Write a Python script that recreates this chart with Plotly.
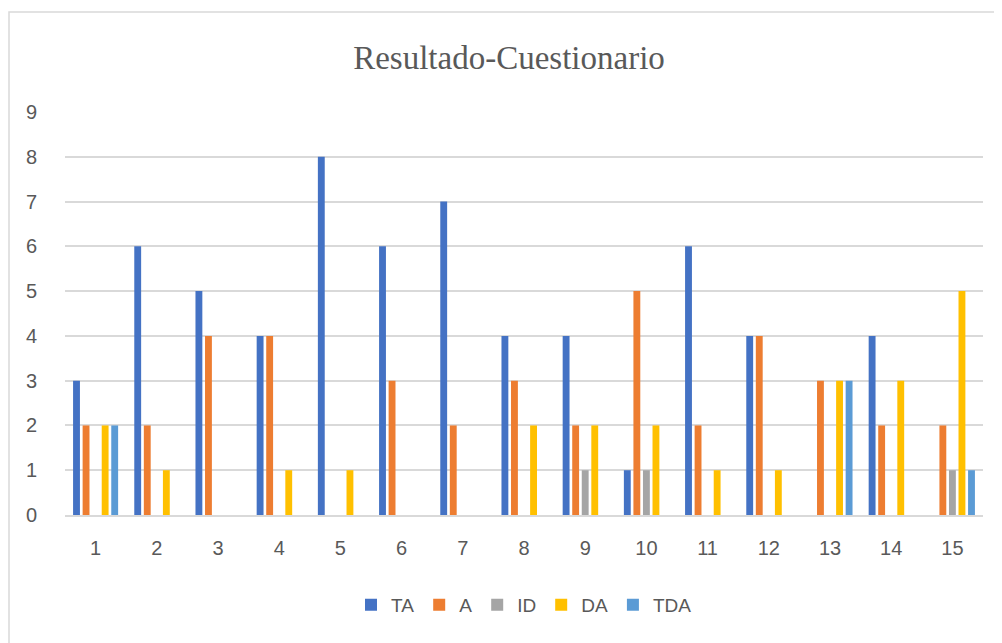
import plotly.graph_objects as go

categories = [str(i) for i in range(1, 16)]
series_names = ["TA", "A", "ID", "DA", "TDA"]
TA  = [3, 6, 5, 4, 8, 6, 7, 4, 4, 1, 6, 4, 0, 4, 0]
A   = [2, 2, 4, 4, 0, 3, 2, 3, 2, 5, 2, 4, 3, 2, 2]
ID  = [0, 0, 0, 0, 0, 0, 0, 0, 1, 1, 0, 0, 0, 0, 1]
DA  = [2, 1, 0, 1, 1, 0, 0, 2, 2, 2, 1, 1, 3, 3, 5]
TDA = [2, 0, 0, 0, 0, 0, 0, 0, 0, 0, 0, 0, 3, 0, 1]
colors = ["#4472C4", "#ED7D31", "#A5A5A5", "#FFC000", "#5B9BD5"]
y_ticks = list(range(0, 10))

fig = go.Figure()
for name, vals, col in zip(series_names, [TA, A, ID, DA, TDA], colors):
    fig.add_trace(go.Bar(x=categories, y=vals, name=name, marker_color=col,
                         marker_line_width=0))

fig.update_layout(
    width=1002, height=643,
    paper_bgcolor="white", plot_bgcolor="white",
    margin=dict(l=57, r=27, t=104, b=136),
    barmode="group", bargap=0.22, bargroupgap=0.28,
    title=dict(text="Resultado-Cuestionario", x=0.5, xanchor="center",
               y=1 - 49 / 643, yanchor="middle",
               font=dict(family="Liberation Serif", size=33, color="#595959")),
    font=dict(family="Liberation Sans", color="#595959"),
    legend=dict(orientation="h", x=0.5, xanchor="center", y=-0.223, yanchor="middle",
                font=dict(size=19, color="#595959"), traceorder="normal",
                itemwidth=30),
    xaxis=dict(showgrid=False, showline=True, linecolor="#d9d9d9", linewidth=2,
               ticks="", tickfont=dict(size=20, color="#595959"), ticklabelstandoff=14),
    yaxis=dict(range=[0, 9], tickvals=y_ticks, showgrid=True, gridcolor="#d9d9d9",
               gridwidth=2, zeroline=False, ticks="",
               tickfont=dict(size=20, color="#595959"), ticklabelstandoff=27),
    shapes=[dict(type="rect", xref="paper", yref="paper",
                 x0=-56 / 918, x1=1.0185, y0=-0.4, y1=1 + 100 / 403,
                 line=dict(color="#d9d9d9", width=1.5))],
)
fig.write_html("out.html")
